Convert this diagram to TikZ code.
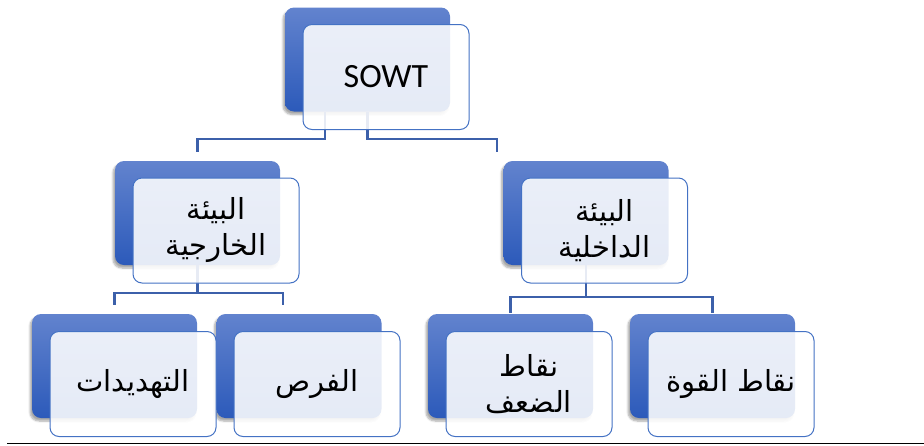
\documentclass[tikz,border=0pt]{standalone}
\usepackage{fontspec}
\setmainfont{Carlito}
\newfontfamily\arabicfont[Script=Arabic]{DejaVu Sans}
\TeXXeTstate=1
\usetikzlibrary{shadows.blur}
\definecolor{bluetop}{RGB}{98,131,206}
\definecolor{bluebot}{RGB}{44,90,186}
\definecolor{edgeblue}{RGB}{68,114,196}
\definecolor{connblue}{RGB}{60,96,170}
\tikzset{
  bluebox/.style={rounded corners=9pt, minimum width=165pt, minimum height=104pt,
    top color=bluetop, bottom color=bluebot, draw=none,
    blur shadow={shadow xshift=-2pt, shadow yshift=-3pt, shadow opacity=35, shadow blur steps=6}},
  whitebox/.style={rounded corners=9pt, minimum width=166pt, minimum height=105pt,
    draw=edgeblue, line width=1pt, fill=white, fill opacity=0.88, text opacity=1,
    align=center, inner sep=0pt},
  conn/.style={draw=connblue, line width=2.4pt},
  artext/.style={font=\arabicfont\fontsize{29}{36}\selectfont},
  latext/.style={font=\fontsize{34}{40}\selectfont}
}
\begin{document}
\begin{tikzpicture}[x=1pt,y=-1pt]
\useasboundingbox (0,0) rectangle (924,445);
% blue back boxes
\node[bluebox] (b0) at (367.5,59.5) {};
\node[bluebox] (b1) at (197.5,213) {};
\node[bluebox] (b2) at (586,213) {};
\node[bluebox] (b3) at (114.5,366) {};
\node[bluebox] (b4) at (299,366) {};
\node[bluebox] (b5) at (510.5,366) {};
\node[bluebox] (b6) at (712.5,366) {};
% connectors
\draw[conn] ([xshift=-42.5pt]b0.south) -- ++(0,27) -| ([yshift=9pt]b1.north);
\draw[conn] (b0.south) -- ++(0,27) -| ([xshift=-89pt,yshift=9pt]b2.north);
\draw[conn] (b1.south) -- ++(0,28) coordinate (j1);
\draw[conn] ([yshift=9pt]b3.north) |- (j1) -| ([xshift=-16pt,yshift=9pt]b4.north);
\draw[conn] (b2.south) -- ++(0,32) coordinate (j2);
\draw[conn] ([yshift=1pt]b5.north) |- (j2) -| ([yshift=1pt]b6.north);
% front boxes
\node[whitebox,latext] (w0) at (386,77) {SOWT};
\node[whitebox,artext] (w1) at (216,230.5) {\beginR البيئة\endR\\\beginR الخارجية\endR};
\node[whitebox,artext] (w2) at (604.5,230.5) {\beginR البيئة\endR\\\beginR الداخلية\endR};
\node[whitebox,artext] (w3) at (133,384) {\beginR التهديدات\endR};
\node[whitebox,artext] (w4) at (317,384) {\beginR الفرص\endR};
\node[whitebox,artext] (w5) at (529,384) {\beginR نقاط\endR\\\beginR الضعف\endR};
\node[whitebox,artext] (w6) at (731,384) {\beginR نقاط القوة\endR};
% bottom rule
\coordinate (r0) at (7,443.5);
\coordinate (r1) at (924,443.5);
\draw[line width=1.6pt] (r0) -- (r1);
\end{tikzpicture}
\end{document}
